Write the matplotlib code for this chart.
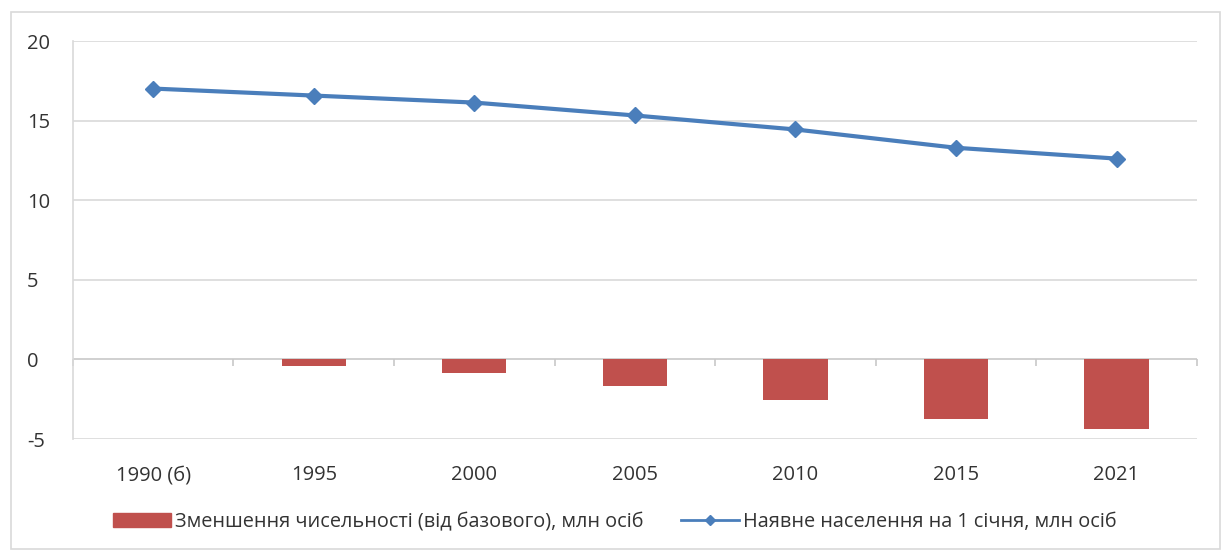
import numpy as np
import matplotlib.pyplot as plt
from matplotlib.lines import Line2D
from matplotlib.patches import Patch, Rectangle

# chart data
categories = ['1990 (б)', '1995', '2000', '2005', '2010', '2015', '2021']
population = [17.02, 16.58, 16.14, 15.33, 14.45, 13.30, 12.62]
decrease = [0.0, -0.44, -0.88, -1.69, -2.57, -3.72, -4.40]
y_ticks = [-5, 0, 5, 10, 15, 20]

bar_label = 'Зменшення чисельності (від базового), млн осіб'
line_label = 'Наявне населення на 1 січня, млн осіб'

plt.rcParams['font.family'] = ['Open Sans', 'DejaVu Sans']

red = '#C0504D'
blue = '#4A7EBB'
grid_c = '#D9D9D9'
text_c = '#333333'

fig = plt.figure(figsize=(12.3, 5.56), dpi=100)
ax = fig.add_axes([0.0593, 0.2104, 0.9137, 0.7156])

x = np.arange(len(categories))

ax.bar(x, decrease, width=0.4, color=red, zorder=3)
ax.plot(x, population, color=blue, lw=3, marker='D', ms=8, zorder=4)

ax.set_xlim(-0.5, len(categories) - 0.5)
ax.set_ylim(-5, 20)
ax.set_yticks(y_ticks)
ax.set_yticklabels([str(v) for v in y_ticks])
for v in y_ticks:
    if v != 0:
        ax.axhline(v, color=grid_c, lw=1.2, zorder=1)
ax.axhline(0, color='#C8C8C8', lw=1.2, zorder=2)

ax.set_xticks(x)
ax.set_xticklabels(categories)

for s in ['top', 'right', 'bottom']:
    ax.spines[s].set_visible(False)
ax.spines['left'].set_color(grid_c)
ax.spines['left'].set_linewidth(1.2)

ax.tick_params(axis='x', length=0, pad=19, labelsize=14.5, colors=text_c)
ax.tick_params(axis='y', length=0, pad=33, labelsize=14.5, colors=text_c)
for lbl in ax.get_yticklabels():
    lbl.set_horizontalalignment('left')

# category boundary ticks on the zero line
sec = ax.secondary_xaxis(0.2)
sec.set_xticks(np.arange(len(categories) + 1) - 0.5)
sec.set_xticklabels([])
sec.tick_params(axis='x', direction='out', length=5, color='#C8C8C8', width=1.2)
sec.spines['bottom'].set_visible(False)

handles = [Patch(color=red),
           Line2D([], [], color=blue, lw=2, marker='D', ms=5)]
fig.legend(handles, [bar_label, line_label], loc='center', ncol=2,
           bbox_to_anchor=(0.5, 0.061), frameon=False, fontsize=14.3,
           handlelength=2.9, handletextpad=0.2, columnspacing=1.9,
           labelcolor=text_c)

# outer chart frame
fig.patches.append(Rectangle((0.009, 0.013), 0.983, 0.965, transform=fig.transFigure,
                             fill=False, edgecolor='#D9D9D9', lw=1.2))

fig.savefig('out.png', dpi=100)
